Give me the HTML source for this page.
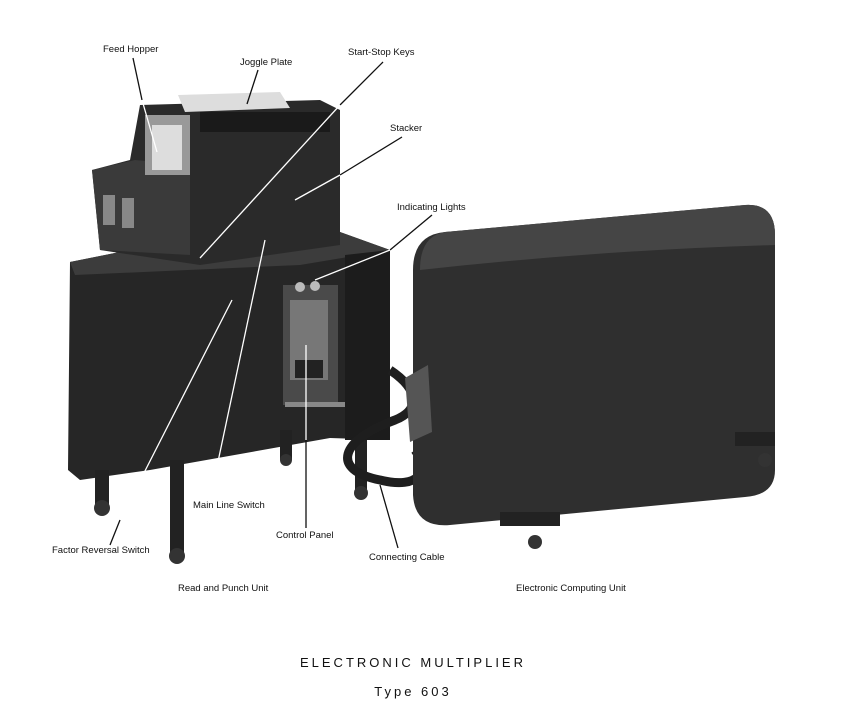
<!DOCTYPE html>
<html><head><meta charset="utf-8"><style>
html,body{margin:0;padding:0;background:#fff;}
svg{display:block;}
text{font-family:"Liberation Sans",sans-serif;fill:#111;}
</style></head><body>
<svg width="849" height="725" viewBox="0 0 849 725" xmlns="http://www.w3.org/2000/svg">
<rect width="849" height="725" fill="#fff"/>
<!-- Read and punch unit: lower cabinet -->
<path d="M70 262 L140 248 L340 232 L390 250 L390 440 L330 438 L150 470 L80 480 L68 470 Z" fill="#262626"/>
<path d="M70 262 L140 248 L340 232 L390 250 L300 265 L75 275 Z" fill="#3c3c3c"/>
<path d="M345 255 L390 250 L390 440 L345 440 Z" fill="#1c1c1c"/>
<rect x="283" y="285" width="55" height="120" fill="#4a4a4a"/>
<rect x="290" y="300" width="38" height="80" fill="#777"/>
<rect x="295" y="360" width="28" height="18" fill="#222"/>
<circle cx="300" cy="287" r="5" fill="#bbb"/><circle cx="315" cy="286" r="5" fill="#bbb"/>
<rect x="285" y="402" width="60" height="5" fill="#888"/>
<!-- upper unit -->
<path d="M92 170 L130 160 L140 105 L320 100 L340 110 L340 245 L200 265 L100 250 Z" fill="#2a2a2a"/>
<path d="M92 170 L135 160 L190 165 L190 255 L100 250 Z" fill="#3a3a3a"/>
<rect x="103" y="195" width="12" height="30" fill="#888"/><rect x="122" y="198" width="12" height="30" fill="#888"/>
<rect x="145" y="115" width="45" height="60" fill="#999"/>
<rect x="152" y="125" width="30" height="45" fill="#ddd"/>
<path d="M178 95 L280 92 L290 108 L185 112 Z" fill="#ddd"/>
<rect x="200" y="112" width="130" height="20" fill="#1a1a1a"/>
<!-- legs -->
<rect x="95" y="470" width="14" height="35" fill="#222"/><circle cx="102" cy="508" r="8" fill="#333"/>
<rect x="170" y="460" width="14" height="95" fill="#222"/><circle cx="177" cy="556" r="8" fill="#333"/>
<rect x="280" y="430" width="12" height="30" fill="#222"/><circle cx="286" cy="460" r="6" fill="#333"/>
<rect x="355" y="440" width="12" height="50" fill="#222"/><circle cx="361" cy="493" r="7" fill="#333"/>
<!-- cable -->
<path d="M390 370 C420 390 420 410 395 420 C340 440 330 470 380 480 C420 490 430 470 415 450" stroke="#1e1e1e" stroke-width="9" fill="none"/>
<!-- computing unit (tilted) -->
<path d="M445 232 L745 205 Q775 203 775 235 L775 470 Q775 495 745 497 L450 525 Q415 528 413 495 L413 270 Q413 235 445 232 Z" fill="#2f2f2f"/>
<path d="M445 232 L745 205 Q775 203 775 235 L775 245 Q600 250 420 270 Q420 236 445 232 Z" fill="#454545"/>
<path d="M405 378 L428 365 L432 432 L410 442 Z" fill="#555"/>
<rect x="500" y="512" width="60" height="14" fill="#222"/><circle cx="535" cy="542" r="7" fill="#333"/>
<rect x="735" y="432" width="40" height="14" fill="#222"/><circle cx="765" cy="460" r="7" fill="#333"/>
<!-- leader lines -->
<g stroke-width="1.3" fill="none">
<line x1="133" y1="58" x2="142" y2="100" stroke="#111"/><line x1="142" y1="100" x2="157" y2="152" stroke="#fff"/>
<line x1="258" y1="70" x2="247" y2="104" stroke="#111"/>
<line x1="383" y1="62" x2="340" y2="105" stroke="#111"/><line x1="340" y1="105" x2="200" y2="258" stroke="#fff"/>
<line x1="402" y1="137" x2="340" y2="175" stroke="#111"/><line x1="340" y1="175" x2="295" y2="200" stroke="#fff"/>
<line x1="432" y1="215" x2="390" y2="250" stroke="#111"/><line x1="390" y1="250" x2="315" y2="280" stroke="#fff"/>
<line x1="265" y1="240" x2="212" y2="490" stroke="#fff"/>
<line x1="232" y1="300" x2="120" y2="520" stroke="#fff"/><line x1="120" y1="520" x2="110" y2="545" stroke="#111"/>
<line x1="306" y1="345" x2="306" y2="440" stroke="#fff"/><line x1="306" y1="440" x2="306" y2="528" stroke="#111"/>
<line x1="380" y1="485" x2="398" y2="548" stroke="#111"/>
</g>
<g font-size="9.5">
<text x="103" y="52">Feed Hopper</text>
<text x="240" y="65">Joggle Plate</text>
<text x="348" y="55">Start-Stop Keys</text>
<text x="390" y="131">Stacker</text>
<text x="397" y="210">Indicating Lights</text>
<text x="193" y="508">Main Line Switch</text>
<text x="276" y="538">Control Panel</text>
<text x="52" y="553">Factor Reversal Switch</text>
<text x="369" y="560">Connecting Cable</text>
<text x="178" y="591">Read and Punch Unit</text>
<text x="516" y="591">Electronic Computing Unit</text>
</g>
<text x="413" y="667" font-size="13" text-anchor="middle" letter-spacing="3">ELECTRONIC MULTIPLIER</text>
<text x="413" y="696" font-size="13" text-anchor="middle" letter-spacing="3">Type 603</text>
</svg>
</body></html>
